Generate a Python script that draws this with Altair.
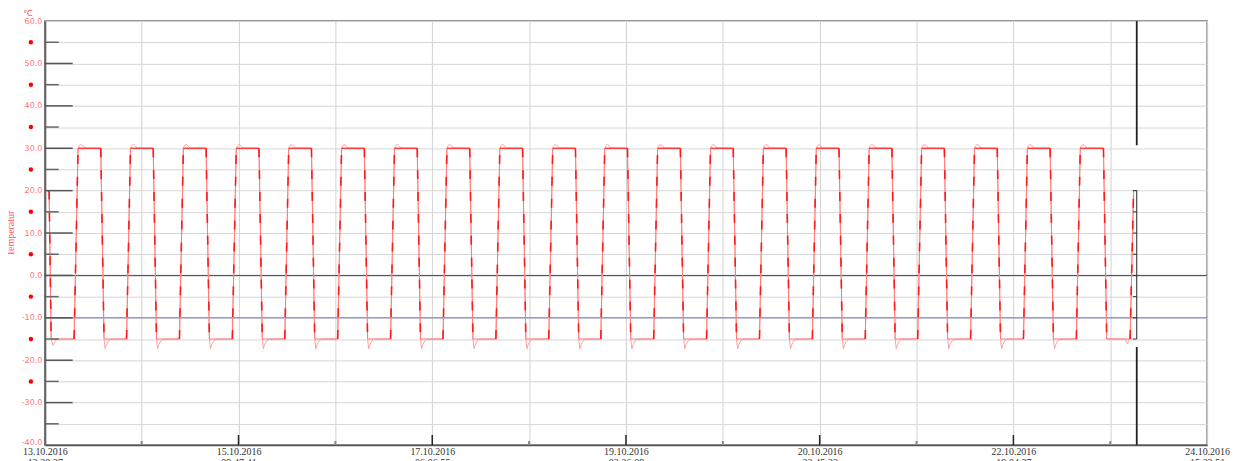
import altair as alt
import pandas as pd

# ---------------- data ----------------
x_dates = ["13.10.2016", "15.10.2016", "17.10.2016", "19.10.2016",
           "20.10.2016", "22.10.2016", "24.10.2016"]
x_times = ["13:28:27", "09:47:41", "06:06:55", "02:26:09",
           "22:45:23", "19:04:37", "15:23:51"]
label_step_h = 44.32          # hours between labelled ticks
span_h = 265.92               # whole time span in hours
half_step_h = 22.16

y_min, y_max = -40, 60
y_major = [50, 40, 30, 20, 10, 0, -10, -20, -30]
y_minor = [55, 45, 35, 25, 15, 5, -5, -15, -25, -35]
y_grid = [60, 55, 50, 45, 40, 35, 30, 25, 20, 15, 10, 5, 0, -5, -10,
          -15, -20, -25, -30, -35, -40]
dot_values = [55, 45, 35, 25, 15, 5, -5, -15, -25]
unit_label = ["°C"]

ref_lines = [0, -10]

high_level = 30
low_level = -15

# cycle start (rise) and fall times in hours from the start
rise_h = [6.7, 18.7, 30.8, 42.9, 54.9, 67.0, 79.1, 91.1, 103.2, 115.3,
          127.2, 139.3, 151.4, 163.5, 175.6, 187.7, 199.7, 211.8, 223.9, 236.0]
drop_h = [12.8, 24.8, 36.9, 49.0, 61.0, 73.1, 85.2, 97.2, 109.3, 121.4,
          133.3, 145.4, 157.5, 169.6, 181.7, 193.8, 205.8, 217.9, 230.0, 242.2]
rise_dur = 0.9
drop_dur = 0.75

# overshoot after reaching the top, undershoot after reaching the bottom
over_dt = [0.25, 0.6, 1.05, 1.5]
over_v = [30.6, 30.9, 30.6, 30.05]
dip_dt = [0.25, 0.55, 0.95, 1.55]
dip_v = [-17.3, -16.3, -15.5, -15.05]

start_h = [0.0, 0.98, 1.45]
start_v = [20, 20, -15]
start_dip_h = [1.65, 1.9, 2.3, 2.8]
start_dip_v = [-15.8, -16.5, -15.6, -15.05]
end_dip_h = [247.2, 247.7, 248.05]
end_dip_v = [-15, -16.2, -15.2]
end_h = [248.3, 249.1, 249.8]
end_v = [-15, 20, 20]

cursor_h = 249.82
cursor_upper = [60, 30.7]
cursor_lower = [-16.9, -40]
cursor_mid = [20, -15]
cursor_ticks = [20, 15, 10, 5, 0, -5, -10, -15]
cursor_tick_len_h = 0.9

# ---------------- tables ----------------
sp = list(zip(start_h, start_v))
act = list(zip(start_h, start_v)) + list(zip(start_dip_h, start_dip_v))
tops, trans = [], []
n = len(rise_h)
for i, (r, d) in enumerate(zip(rise_h, drop_h)):
    sp += [(r, low_level), (r + rise_dur, high_level), (d, high_level), (d + drop_dur, low_level)]
    act += [(r, low_level), (r + rise_dur, high_level)]
    act += [(r + rise_dur + dt, v) for dt, v in zip(over_dt, over_v)]
    act += [(d, high_level), (d + drop_dur, low_level)]
    if i < n - 1:
        act += [(d + drop_dur + dt, v) for dt, v in zip(dip_dt, dip_v)]
    tops += [(i, r + rise_dur, high_level), (i, d, high_level)]
    trans += [(2 * i, r, low_level), (2 * i, r + rise_dur, high_level),
              (2 * i + 1, d, high_level), (2 * i + 1, d + drop_dur, low_level)]
trans += [(2 * n, start_h[1], start_v[1]), (2 * n, start_h[2], start_v[2]),
          (2 * n + 1, end_h[0], end_v[0]), (2 * n + 1, end_h[1], end_v[1])]
sp += list(zip(end_h, end_v))
act += list(zip(end_dip_h, end_dip_v)) + list(zip(end_h, end_v))

sp_df = pd.DataFrame(sp, columns=["h", "v"])
sp_df["o"] = range(len(sp_df))
act_df = pd.DataFrame(act, columns=["h", "v"])
act_df["o"] = range(len(act_df))
tops_df = pd.DataFrame(tops, columns=["g", "h", "v"])
trans_df = pd.DataFrame(trans, columns=["g", "h", "v"])

x_grid = [round(i * half_step_h, 3) for i in range(13)]
x_major = [x for i, x in enumerate(x_grid) if i % 2 == 0 and 0 < i < 12]
x_minor = [x for i, x in enumerate(x_grid) if i % 2 == 1]

xs = alt.Scale(domain=[0, span_h], nice=False, zero=False)
ys = alt.Scale(domain=[y_min, y_max], nice=False, zero=False)

dates_js = "[" + ",".join(f"'{d}'" for d in x_dates) + "]"
times_js = "[" + ",".join(f"'{t}'" for t in x_times) + "]"
x_label_expr = (
    f"(round(datum.value/{half_step_h}) % 2 == 0) ? "
    f"[{dates_js}[round(datum.value/{label_step_h})], {times_js}[round(datum.value/{label_step_h})]] : ''"
)

x_axis = alt.Axis(
    values=x_grid, labelExpr=x_label_expr, grid=True, gridColor="#d2d2d2",
    gridWidth=1, ticks=False, domain=True, domainColor="#555", domainWidth=1.5,
    labelFont="Liberation Serif", labelFontSize=10, labelColor="#333",
    labelPadding=2, labelLineHeight=11, labelFlush=False, labelOverlap=False,
    title=None)
y_axis = alt.Axis(
    values=y_grid,
    labelExpr="(datum.value % 10 == 0) ? (datum.value + '.0') : ''",
    labelBaseline={"condition": {"test": f"datum.value == {y_min}", "value": "alphabetic"},
                   "value": "middle"},
    grid=True, gridColor="#d6d6d6", gridWidth=1, ticks=False,
    domain=True, domainColor="#666", domainWidth=2,
    labelFont="DejaVu Sans", labelFontSize=8, labelColor="#ff7070",
    labelPadding=3, labelFlush=False, labelOverlap=False,
    title="Temperatur", titleFont="Liberation Serif", titleFontSize=10,
    titleFontWeight="normal", titleColor="#ff5050", titleX=-34, titleY=213,
    titleBaseline="middle", titleAlign="center")


def X(f="h"):
    return alt.X(f"{f}:Q", scale=xs, axis=x_axis)


def Y(f="v"):
    return alt.Y(f"{f}:Q", scale=ys, axis=y_axis)


ref_df = pd.DataFrame({"v": ref_lines, "c": ["#3f3f98", "#7272b6"]})
refs = alt.Chart(ref_df).mark_rule(strokeWidth=1).encode(
    y=Y(), color=alt.Color("c:N", scale=None))

ymaj = alt.Chart(pd.DataFrame({"v": y_major})).mark_rule(color="#555", strokeWidth=1.5).encode(
    y=Y(), x=alt.value(0), x2=alt.value(28))
ymin_ = alt.Chart(pd.DataFrame({"v": y_minor})).mark_rule(color="#666", strokeWidth=1.5).encode(
    y=Y(), x=alt.value(0), x2=alt.value(14))

xmaj = alt.Chart(pd.DataFrame({"h": x_major})).mark_rule(color="#222", strokeWidth=1.5).encode(
    x=X(), y=alt.value(426), y2=alt.value(416))
xmin_ = alt.Chart(pd.DataFrame({"h": x_minor})).mark_rule(color="#888", strokeWidth=2).encode(
    x=X(), y=alt.value(426), y2=alt.value(422))

dots = alt.Chart(pd.DataFrame({"v": dot_values})).mark_point(
    filled=True, color="#ff0000", size=20, opacity=1, shape="circle").encode(
    y=Y(), x=alt.value(-14))

unit = alt.Chart(pd.DataFrame({"t": unit_label})).mark_text(
    color="#ff3030", fontSize=8, font="DejaVu Sans", baseline="top").encode(
    text="t:N", x=alt.value(-17), y=alt.value(-11))

actual = alt.Chart(act_df).mark_line(color="#ffa0a0", strokeWidth=1).encode(
    x=X(), y=Y(), order="o:Q")
setp = alt.Chart(sp_df).mark_line(color="#ff7a7a", strokeWidth=1).encode(
    x=X(), y=Y(), order="o:Q")
top_lines = alt.Chart(tops_df).mark_line(color="#ff2020", strokeWidth=1).encode(
    x=X(), y=Y(), detail="g:N")
trans_lines = alt.Chart(trans_df).mark_line(
    color="#ff1a1a", strokeWidth=1.6, strokeDash=[9, 13]).encode(
    x=X(), y=Y(), detail="g:N")

cur_df = pd.DataFrame({
    "h": [cursor_h, cursor_h, cursor_h],
    "v": [cursor_upper[0], cursor_lower[0], cursor_mid[0]],
    "v2": [cursor_upper[1], cursor_lower[1], cursor_mid[1]],
    "w": [1.8, 1.8, 1.0],
})
cursor = alt.Chart(cur_df).mark_rule(color="#222").encode(
    x=X(), y=Y(), y2="v2:Q", strokeWidth=alt.StrokeWidth("w:Q", scale=None))
ct_df = pd.DataFrame({"v": cursor_ticks})
ct_df["h"] = cursor_h - cursor_tick_len_h
ct_df["h2"] = cursor_h
cursor_t = alt.Chart(ct_df).mark_rule(color="#333", strokeWidth=1).encode(
    x=X(), x2="h2:Q", y=Y())

chart = alt.layer(
    refs, actual, setp, top_lines, trans_lines, ymaj, ymin_, xmaj, xmin_,
    cursor, cursor_t, dots, unit
).properties(
    width=1168, height=426,
    padding={"left": 37, "top": 12, "right": 25, "bottom": 25},
    autosize=alt.AutoSizeParams(type="none"),
    background="white",
).configure_view(stroke="#777", strokeWidth=1.5)

chart.save("out.html", embed_options={"renderer": "svg", "actions": False})
